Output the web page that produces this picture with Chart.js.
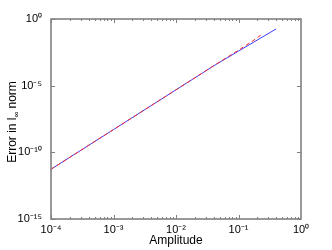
<!DOCTYPE html>
<html>
<head>
<meta charset="utf-8">
<script src="https://cdn.jsdelivr.net/npm/chart.js@4/dist/chart.umd.min.js"></script>
<style>
  html, body { margin: 0; padding: 0; background: #fff; }
  #wrap { width: 332px; height: 250px; position: relative; }
</style>
</head>
<body>
<div id="wrap"><canvas id="chart"></canvas></div>
<script>
// values
const ampSolid = [1e-4, 1e-3, 1e-2, 0.042, 0.1, 0.4];
const errSolid = [5.4e-12, 5.1e-9, 4.9e-6, 3.5e-4, 3.9e-3, 0.18];
const ampDashed = [1e-4, 1e-3, 1e-2, 0.042, 0.1, 0.17, 0.24];
const errDashed = [5.4e-12, 5.1e-9, 4.9e-6, 3.6e-4, 4.6e-3, 2.3e-2, 7.5e-2];

const xTicks = [1e-4, 1e-3, 1e-2, 1e-1, 1];
const xTickLabels = ['10\u207B\u2074', '10\u207B\u00B3', '10\u207B\u00B2', '10\u207B\u00B9', '10\u2070'];
const yTicks = [1e-15, 1e-10, 1e-5, 1];
const yTickLabels = ['10\u207B\u00B9\u2075', '10\u207B\u00B9\u2070', '10\u207B\u2075', '10\u2070'];

const FONT = 'Liberation Sans, Arial, Helvetica, sans-serif';
const AXIS = '#808080';

const toXY = (xs, ys) => xs.map((x, i) => ({ x: x, y: ys[i] }));

// box + inward ticks + y title with subscript
const framePlugin = {
  id: 'frame',
  afterDraw(chart) {
    const ctx = chart.ctx;
    const a = chart.chartArea;
    const xs = chart.scales.x, ys = chart.scales.y;
    ctx.save();
    ctx.strokeStyle = AXIS;
    ctx.lineWidth = 1;
    // x ticks, major and minor, on bottom and top
    for (let d = -4; d < 0; d++) {
      for (let m = 1; m <= 9; m++) {
        const px = Math.round(xs.getPixelForValue(m * Math.pow(10, d))) + 0.5;
        const len = m === 1 ? 4 : 2;
        ctx.beginPath();
        ctx.moveTo(px, a.bottom); ctx.lineTo(px, a.bottom - len);
        ctx.moveTo(px, a.top); ctx.lineTo(px, a.top + len);
        ctx.stroke();
      }
    }
    yTicks.forEach(v => {
      const py = Math.round(ys.getPixelForValue(v)) + 0.5;
      ctx.beginPath();
      ctx.moveTo(a.left, py); ctx.lineTo(a.left + 4, py);
      ctx.moveTo(a.right, py); ctx.lineTo(a.right - 4, py);
      ctx.stroke();
    });
    ctx.lineWidth = 1.6;
    ctx.strokeRect(a.left, a.top, a.right - a.left, a.bottom - a.top);

    // y title
    ctx.fillStyle = '#000';
    ctx.translate(16, (a.top + a.bottom) / 2 + 3);
    ctx.rotate(-Math.PI / 2);
    ctx.textBaseline = 'alphabetic';
    const p1 = 'Error in l', p2 = '\u221E', p3 = ' norm';
    ctx.font = '12px ' + FONT; const w1 = ctx.measureText(p1).width;
    ctx.font = '8px ' + FONT;  const w2 = ctx.measureText(p2).width;
    ctx.font = '12px ' + FONT; const w3 = ctx.measureText(p3).width;
    let x0 = -(w1 + w2 + w3) / 2;
    ctx.fillText(p1, x0, 0);
    ctx.font = '8px ' + FONT;
    ctx.fillText(p2, x0 + w1, 3);
    ctx.font = '12px ' + FONT;
    ctx.fillText(p3, x0 + w1 + w2, 0);
    ctx.restore();
  }
};

new Chart(document.getElementById('chart'), {
  type: 'line',
  data: {
    datasets: [
      {
        label: 'dashed',
        data: toXY(ampDashed, errDashed),
        borderColor: 'rgb(255,40,40)',
        borderWidth: 1,
        borderDash: [4, 3],
        pointRadius: 0,
        tension: 0
      },
      {
        label: 'solid',
        data: toXY(ampSolid, errSolid),
        borderColor: 'rgb(60,60,255)',
        borderWidth: 1,
        pointRadius: 0,
        tension: 0
      }
    ]
  },
  plugins: [framePlugin],
  options: {
    responsive: true,
    maintainAspectRatio: false,
    animation: false,
    layout: { padding: { left: 0, top: 19, right: 31, bottom: 0 } },
    plugins: { legend: { display: false }, tooltip: { enabled: false } },
    scales: {
      x: {
        type: 'logarithmic',
        min: 1e-4,
        max: 1,
        afterFit: s => { s.height = 31; },
        afterBuildTicks: s => { s.ticks = xTicks.map(v => ({ value: v })); },
        grid: { display: false, drawTicks: false },
        border: { display: false },
        ticks: {
          autoSkip: false,
          maxRotation: 0,
          padding: 4,
          color: '#000',
          font: { family: FONT, size: 11 },
          callback: (v, i) => xTickLabels[i]
        },
        title: {
          display: true,
          text: 'Amplitude',
          color: '#000',
          font: { family: FONT, size: 12 },
          padding: { top: 0, bottom: 2 }
        }
      },
      y: {
        type: 'logarithmic',
        min: 1e-15,
        max: 1,
        afterFit: s => { s.width = 51; },
        afterBuildTicks: s => { s.ticks = yTicks.map(v => ({ value: v })); },
        grid: { display: false, drawTicks: false },
        border: { display: false },
        ticks: {
          autoSkip: false,
          padding: 9,
          color: '#000',
          font: { family: FONT, size: 11 },
          callback: (v, i) => yTickLabels[i]
        }
      }
    }
  }
});
</script>
</body>
</html>
